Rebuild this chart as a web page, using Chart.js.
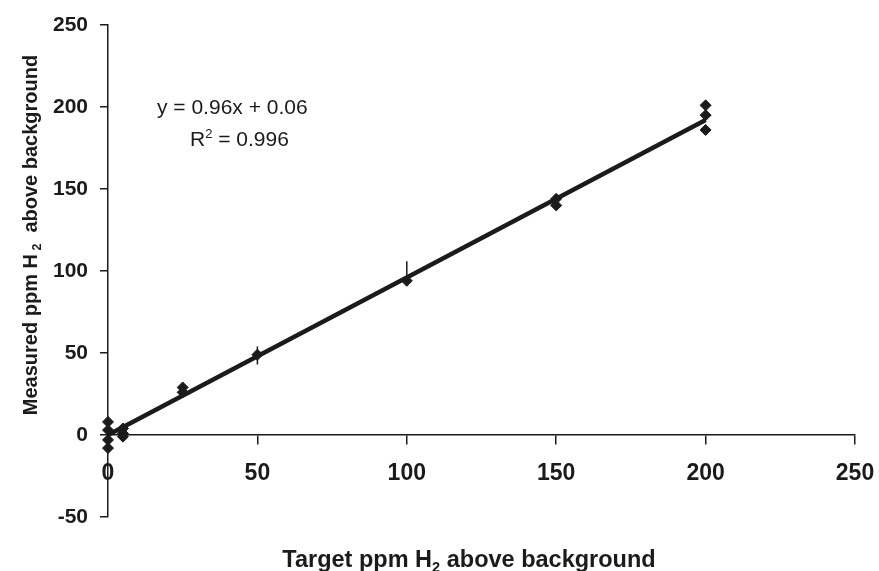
<!DOCTYPE html>
<html>
<head>
<meta charset="utf-8">
<script src="https://cdn.jsdelivr.net/npm/chart.js@4"></script>
<style>
  html, body { margin: 0; padding: 0; background: #fff; }
  #wrap { width: 879px; height: 571px; }
</style>
</head>
<body>
<div id="wrap"><canvas id="myChart" width="879" height="571"></canvas></div>
<script>
// measured points (target ppm, measured ppm)
const targetX = [0, 0, 0, 0, 5, 5, 5, 25, 25, 50, 100, 150, 150, 200, 200, 200];
const measuredY = [8, 3, -3, -8, 4, 1, -1, 29, 26, 49, 94, 144, 140, 201, 195, 186];

// error bars (x, low, high)
const errX = [50, 100];
const errLow = [43, 93];
const errHigh = [54, 106];

// linear fit
const slope = 0.96;
const intercept = 0.06;
const fitX = [0, 200];

const xTicks = [0, 50, 100, 150, 200, 250];
const yTicks = [-50, 0, 50, 100, 150, 200, 250];

const ink = "#1b1b1b";
const font = "'Liberation Sans', Arial, sans-serif";

const points = targetX.map((x, i) => ({ x: x, y: measuredY[i] }));
const fitLine = fitX.map((x) => ({ x: x, y: slope * x + intercept }));

const errSets = errX.map((x, i) => ({
  type: "line",
  data: [{ x: x, y: errLow[i] }, { x: x, y: errHigh[i] }],
  borderColor: ink,
  borderWidth: 1.5,
  pointRadius: 0,
  clip: false,
  order: 3,
}));

// text with a sub/superscript piece
function drawRich(ctx, parts, x, y, size, weight, align) {
  ctx.save();
  ctx.textBaseline = "alphabetic";
  ctx.textAlign = "left";
  let total = 0;
  parts.forEach((p) => {
    const s = p.shift ? size * 0.62 : size;
    ctx.font = weight + " " + s + "px " + font;
    p.w = ctx.measureText(p.t).width;
    total += p.w;
  });
  let cx = align === "center" ? x - total / 2 : x;
  parts.forEach((p) => {
    const s = p.shift ? size * 0.62 : size;
    ctx.font = weight + " " + s + "px " + font;
    ctx.fillText(p.t, cx, y + (p.shift || 0) * size);
    cx += p.w;
  });
  ctx.restore();
}

const labelsPlugin = {
  id: "labels",
  afterDraw(chart) {
    const ctx = chart.ctx;
    ctx.fillStyle = ink;
    // x title
    drawRich(ctx, [
      { t: "Target ppm H" },
      { t: "2", shift: 0.2 },
      { t: " above background" },
    ], 469, 567, 23.5, "bold", "center");
    // y title
    ctx.save();
    ctx.translate(37, 235);
    ctx.rotate(-Math.PI / 2);
    drawRich(ctx, [
      { t: "Measured ppm H" },
      { t: " 2", shift: 0.2 },
      { t: "  above background" },
    ], 0, 0, 20, "bold", "center");
    ctx.restore();
    // equation
    drawRich(ctx, [{ t: "y = 0.96x + 0.06" }], 157, 114, 21, "normal", "left");
    drawRich(ctx, [
      { t: "R" },
      { t: "2", shift: -0.4 },
      { t: " = 0.996" },
    ], 190, 146, 21, "normal", "left");
  },
};

const noPad = (s) => {
  s.paddingLeft = 0;
  s.paddingRight = 0;
  s.paddingTop = 0;
  s.paddingBottom = 0;
};

new Chart(document.getElementById("myChart"), {
  type: "scatter",
  data: {
    datasets: [
      {
        type: "line",
        data: fitLine,
        borderColor: ink,
        borderWidth: 4.5,
        pointRadius: 0,
        clip: false,
        order: 2,
      },
      ...errSets,
      {
        data: points,
        pointStyle: "rectRot",
        pointRadius: 5.5,
        backgroundColor: ink,
        borderColor: ink,
        borderWidth: 1,
        clip: false,
        order: 1,
      },
    ],
  },
  options: {
    responsive: false,
    animation: false,
    layout: { padding: { top: 25, right: 24, bottom: 54, left: 0 } },
    plugins: {
      legend: { display: false },
      tooltip: { enabled: false },
    },
    scales: {
      x: {
        type: "linear",
        min: 0,
        max: 250,
        position: { y: 0 },
        afterBuildTicks: (s) => { s.ticks = xTicks.map((v) => ({ value: v })); },
        afterFit: (s) => { noPad(s); },
        grid: { drawOnChartArea: false, drawTicks: true, tickLength: 9, color: ink, lineWidth: 1.5 },
        border: { display: true, color: ink, width: 1.5 },
        ticks: {
          color: ink,
          padding: 16,
          font: { family: font, size: 23, weight: "bold" },
        },
      },
      y: {
        type: "linear",
        min: -50,
        max: 250,
        afterBuildTicks: (s) => { s.ticks = yTicks.map((v) => ({ value: v })); },
        afterFit: (s) => { s.width = 108; noPad(s); },
        grid: { drawOnChartArea: false, drawTicks: true, tickLength: 8, color: ink, lineWidth: 1.5 },
        border: { display: true, color: ink, width: 1.5 },
        ticks: {
          color: ink,
          padding: 12,
          font: { family: font, size: 21, weight: "bold" },
        },
      },
    },
  },
  plugins: [labelsPlugin],
});
</script>
</body>
</html>
